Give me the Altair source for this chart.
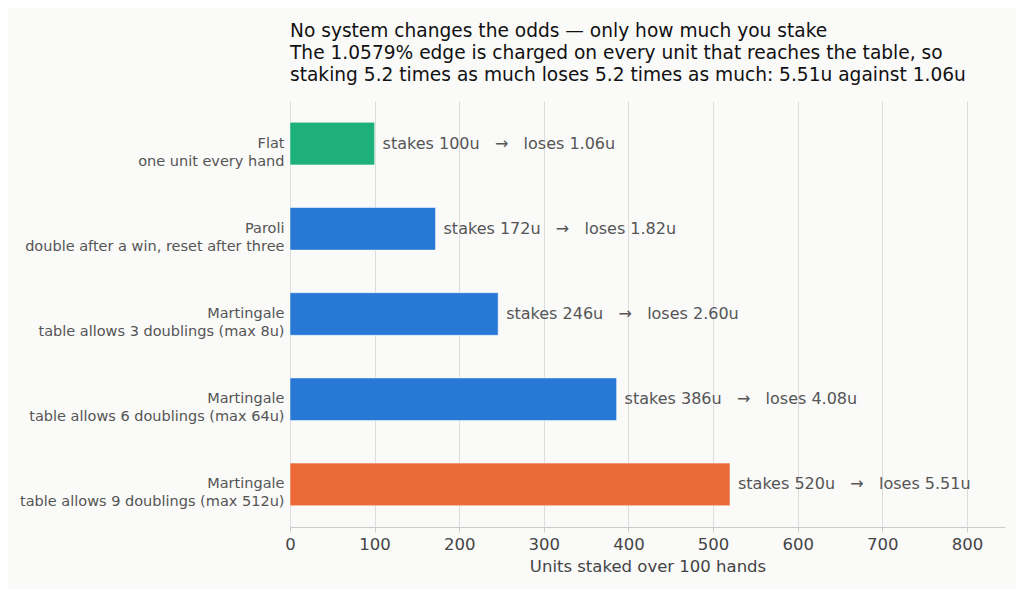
import altair as alt
import pandas as pd

systems = ["Flat", "Paroli", "Martingale", "Martingale", "Martingale"]
details = [
    "one unit every hand",
    "double after a win, reset after three",
    "table allows 3 doublings (max 8u)",
    "table allows 6 doublings (max 64u)",
    "table allows 9 doublings (max 512u)",
]
stakes = [100, 172, 246, 386, 520]
losses = [1.06, 1.82, 2.60, 4.08, 5.51]
colors = ["#1db07a", "#2878d6", "#2878d6", "#2878d6", "#eb6a37"]

NB = "\u00a0"
df = pd.DataFrame({
    "cat": [f"{s}|{d}" for s, d in zip(systems, details)],
    "stake": stakes,
    "loss": losses,
    "color": colors,
})
df["label"] = [
    f"stakes {s}u{NB*3}\u2192{NB*3}loses {l:.2f}u" for s, l in zip(stakes, losses)
]
order = list(df["cat"])

FONT = "DejaVu Sans"

y = alt.Y(
    "cat:N",
    sort=order,
    title=None,
    scale=alt.Scale(paddingInner=0.5, paddingOuter=0.25),
    axis=alt.Axis(
        labelExpr="split(datum.label, '|')",
        labelFontSize=14.5,
        labelColor="#555555",
        labelLineHeight=18,
        labelPadding=6,
        labelLimit=400,
        ticks=False,
        domain=False,
        grid=False,
    ),
)

x = alt.X(
    "stake:Q",
    title="Units staked over 100 hands",
    scale=alt.Scale(domain=[0, 845], nice=False),
    axis=alt.Axis(
        values=[0, 100, 200, 300, 400, 500, 600, 700, 800],
        labelFontSize=16.5,
        labelColor="#444444",
        labelPadding=4,
        labelFlush=False,
        titleFontSize=16.5,
        titleColor="#444444",
        titleFontWeight="normal",
        titlePadding=6,
        grid=True,
        gridColor="#dddddd",
        domainColor="#cccccc",
        tickColor="#cccccc",
        tickSize=5,
    ),
)

bars = alt.Chart(df).mark_bar(
    stroke="white", strokeWidth=1, strokeOpacity=0.5
).encode(
    x=x,
    y=y,
    color=alt.Color("color:N", scale=None),
)

text = alt.Chart(df).mark_text(
    align="left", baseline="middle", dx=8, fontSize=16, color="#555555", font=FONT
).encode(
    x="stake:Q",
    y=alt.Y("cat:N", sort=order),
    text="label:N",
)

chart = (bars + text).properties(
    width=715,
    height=426,
    background="#fafaf9",
    padding={"left": 282, "top": 93, "right": 11, "bottom": 62},
    autosize=alt.AutoSizeParams(type="none"),
    title=alt.Title(
        text=[
            "No system changes the odds \u2014 only how much you stake",
            "The 1.0579% edge is charged on every unit that reaches the table, so",
            "staking 5.2 times as much loses 5.2 times as much: 5.51u against 1.06u",
        ],
        anchor="start",
        frame="group",
        fontSize=18.6,
        fontWeight="normal",
        color="#111111",
        lineHeight=22,
        offset=16,
        font=FONT,
    ),
).configure(font=FONT).configure_view(stroke=None)

chart.save("out.html", embed_options={"renderer": "svg", "actions": False})
